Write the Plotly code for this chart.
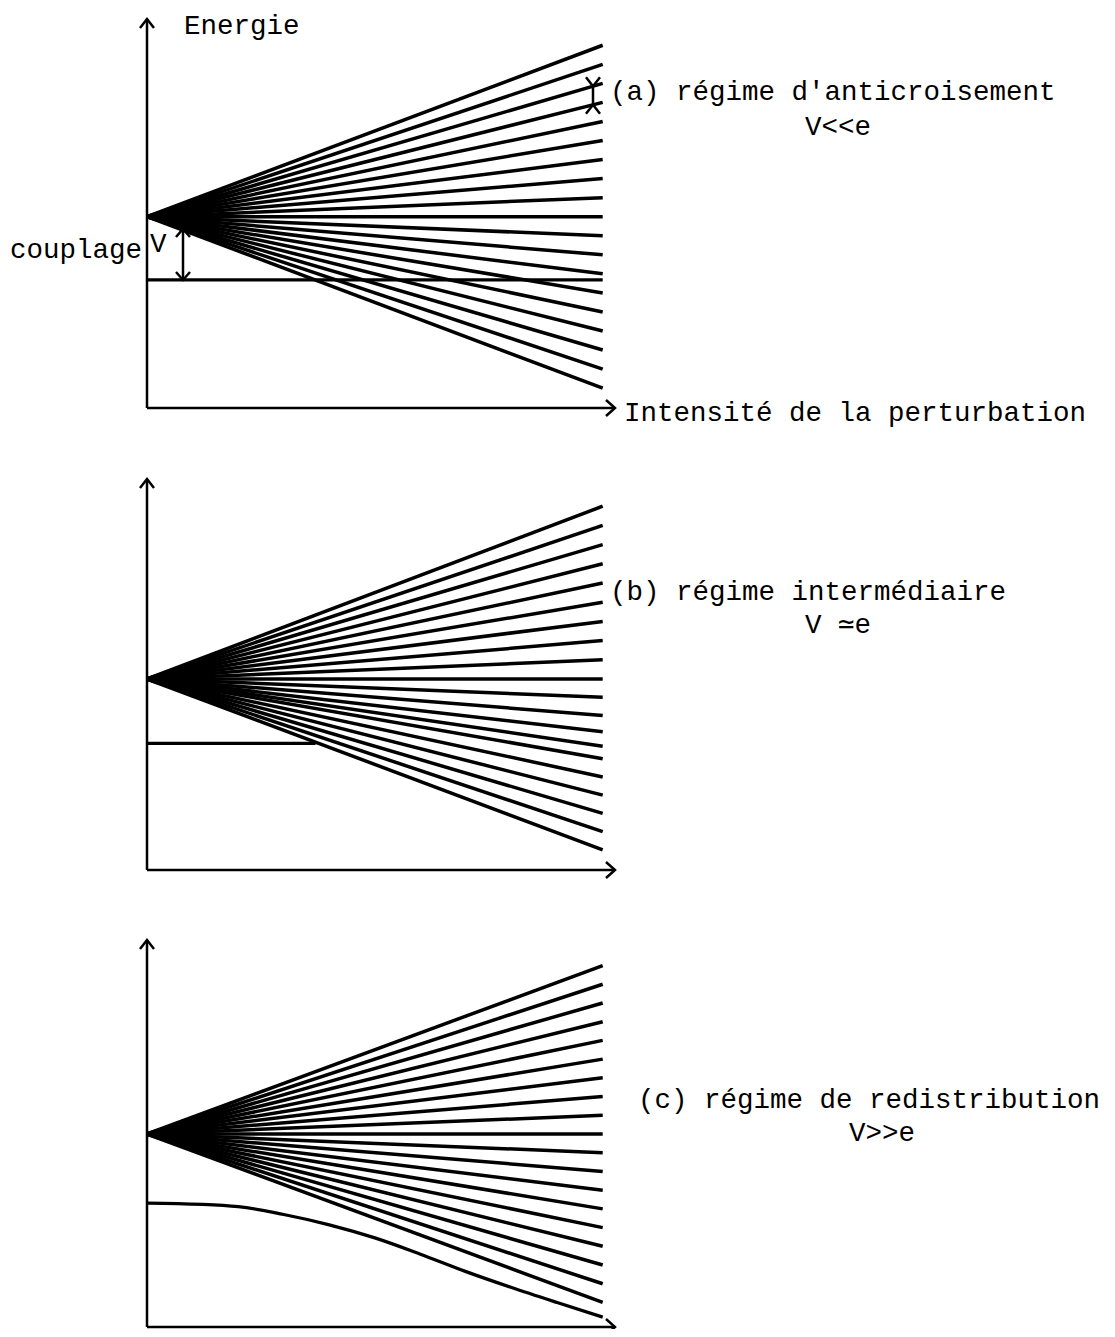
import plotly.graph_objects as go

# ------- data (energies in units of the fan spacing e, x = intensity 0..1) ------- #

# end energies of the fan lines at full intensity, top to bottom
fan_a = [9, 8, 7, 6, 5, 4, 3, 2, 1, 0, -1, -2, -3, -4, -5, -6, -7, -8, -9]
fan_b = [9, 8, 7, 6, 5, 4, 3, 2, 1, 0, -0.95, -1.9, -2.75, -3.5, -4.15, -5.1, -6.05, -7.0, -7.95, -8.9]
fan_c = [9, 8, 7, 6, 5, 4, 3, 2, 1, 0, -1, -2, -3, -4, -5, -6, -7, -8, -9]

# the isolated level coupled to the fan
level_a_x = [0, 1.0]
level_a_y = [-3.32, -3.32]
level_b_x = [0, 0.37]
level_b_y = [-3.35, -3.35]
level_c_x = [0, 0.2, 0.3, 0.4, 0.5, 0.6, 0.7, 0.8, 0.9, 1.0]
level_c_y = [-3.69, -3.88, -4.3, -4.85, -5.55, -6.42, -7.35, -8.2, -9.0, -9.78]

labels = ["(a) régime d'anticroisement", "(b) régime intermédiaire", "(c) régime de redistribution"]
conditions = ["V<<e", "V ≃e", "V>>e"]

# ------- page geometry (page pixels; the plot div sits 8 px in from the page corner) ------- #
W, H = 1115, 1337
OFF = 8
FW, FH = W - 2 * OFF, H - 2 * OFF
X0, X1 = 147, 602.7          # x = 0 and x = 1
XSCALE = X1 - X0
FONT = dict(family="Liberation Mono, Courier New, monospace", size=27.5, color="black")

# origin, step, x-axis, arrow tip, band top, band bottom
panels = [
    dict(org=216.7, step=19.05, base=408, tip=19, top=OFF, bot=450),
    dict(org=679, step=19.2, base=870, tip=479, top=450, bot=905),
    dict(org=1134, step=18.72, base=1327, tip=940, top=905, bot=H - OFF),
]

fig = go.Figure()


def line(xs, ys, ax, w=3.0, shape="linear"):
    fig.add_trace(go.Scatter(x=xs, y=ys, mode="lines", yaxis=ax, xaxis="x",
                             line=dict(color="black", width=w, shape=shape),
                             hoverinfo="skip", showlegend=False))


fans = [fan_a, fan_b, fan_c]
levels = [(level_a_x, level_a_y), (level_b_x, level_b_y), (level_c_x, level_c_y)]

for i, p in enumerate(panels):
    ax = "y" if i == 0 else "y%d" % (i + 1)
    st = p["step"]
    e_base = (p["org"] - p["base"]) / st
    e_tip = (p["org"] - p["tip"]) / st
    x_tip = (615 - X0) / XSCALE
    dx = 7 / XSCALE
    dy = 9 / st

    # axes with open arrow heads
    line([0, 0], [e_base, e_tip], ax, 2.5)
    line([-dx, 0, dx], [e_tip - dy, e_tip, e_tip - dy], ax, 2.5)
    line([0, x_tip], [e_base, e_base], ax, 2.5)
    line([x_tip - 9 / XSCALE, x_tip, x_tip - 9 / XSCALE],
         [e_base + 8 / st, e_base, e_base - 8 / st], ax, 2.5)

    # fan of levels
    xs, ys = [], []
    for e in fans[i]:
        xs += [0, 1, None]
        ys += [0, e, None]
    line(xs, ys, ax, 3.5)

    # coupled level
    lx, ly = levels[i]
    line(lx, ly, ax, 3.3, "spline")

    # y axis placement
    dom = [1 - (p["bot"] - OFF) / FH, 1 - (p["top"] - OFF) / FH]
    rng = [(p["org"] - p["bot"]) / st, (p["org"] - p["top"]) / st]
    key = "yaxis" if i == 0 else "yaxis%d" % (i + 1)
    fig.layout[key] = dict(domain=dom, range=rng, visible=False, anchor="x")

# coupling arrow V in panel (a)
pa = panels[0]
st = pa["step"]
xv = (183 - X0) / XSCALE
ytop = (pa["org"] - 229) / st
ybot = level_a_y[0]
line([xv, xv], [ytop, ybot], "y", 2.5)
line([xv - 7 / XSCALE, xv, xv + 7 / XSCALE], [ytop - 8 / st, ytop, ytop - 8 / st], "y", 2.5)
line([xv - 7 / XSCALE, xv, xv + 7 / XSCALE], [ybot + 8 / st, ybot, ybot + 8 / st], "y", 2.5)

# spacing marker e in panel (a)
xm = (593 - X0) / XSCALE
y1 = fan_a[2] * xm
y2 = fan_a[3] * xm
line([xm, xm], [y1, y2], "y", 2.5)
line([xm - 7 / XSCALE, xm, xm + 7 / XSCALE], [y1 + 9 / st, y1, y1 + 9 / st], "y", 2.5)
line([xm - 7 / XSCALE, xm, xm + 7 / XSCALE], [y2 - 9 / st, y2, y2 - 9 / st], "y", 2.5)


def text(s, px, py, anchor="left"):
    fig.add_annotation(x=(px - OFF) / FW, y=1 - (py - OFF) / FH, xref="paper", yref="paper",
                       text=s, showarrow=False, xanchor=anchor, yanchor="middle", font=FONT)


text("Energie", 182, 27)
text("couplage", 8, 250)
text("V", 158, 244, "center")
text("Intensité de la perturbation", 622, 413)

text(labels[0], 608, 92)
text(conditions[0], 838, 127, "center")
text(labels[1], 608, 592)
text(conditions[1], 838, 625, "center")
text(labels[2], 636, 1100)
text(conditions[2], 882, 1133, "center")

fig.update_layout(
    width=FW, height=FH,
    margin=dict(l=0, r=0, t=0, b=0),
    paper_bgcolor="white", plot_bgcolor="white",
    xaxis=dict(domain=[0, 1], range=[(OFF - X0) / XSCALE, (OFF + FW - X0) / XSCALE], visible=False),
    showlegend=False,
)

fig.write_html("out.html")
